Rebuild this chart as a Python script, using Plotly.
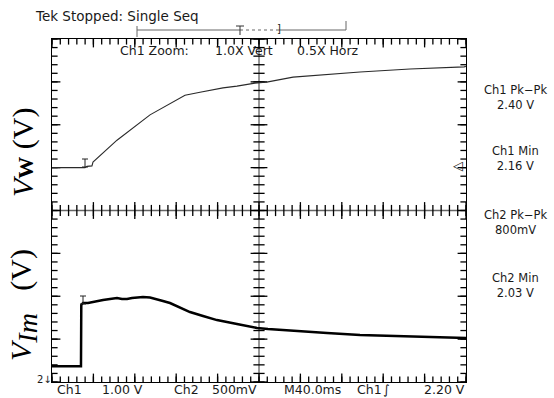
import numpy as np
import plotly.graph_objects as go

# ---------------- data (time in ms, volts) ----------------
ch1_t = [0, 31.9, 33.8, 38.6, 39.6, 62.8, 94.7, 111.1, 128.5, 143.0, 165.2, 178.7,
         196.1, 208.7, 232.9, 297.6, 345.9, 398.1, 400]
ch1_v = [2.16, 2.16, 2.19, 2.20, 2.29, 2.80, 3.39, 3.62, 3.85, 3.92, 4.02, 4.06,
         4.13, 4.16, 4.27, 4.39, 4.46, 4.51, 4.52]

ch2_t = [0, 28.0, 28.3, 30.0, 34.8, 39.6, 44.4, 49.3, 56.0, 62.8, 67.6, 72.5, 77.3,
         82.1, 87.9, 94.7, 101.4, 107.2, 114.0, 120.8, 126.6, 133.3, 145.9, 159.4,
         178.7, 198.1, 208.7, 232.9, 265.7, 297.6, 329.5, 362.3, 397.1, 400]
ch2_v = [2.03, 2.03, 2.743, 2.766, 2.766, 2.778, 2.795, 2.801, 2.813, 2.825, 2.813,
         2.813, 2.825, 2.830, 2.836, 2.830, 2.813, 2.790, 2.766, 2.731, 2.696, 2.661,
         2.614, 2.567, 2.521, 2.475, 2.463, 2.440, 2.416, 2.393, 2.381, 2.370, 2.358, 2.357]

# scope settings
time_per_div = 40.0          # M40.0ms
ch1_scale, ch1_center = 1.00, 1.16    # V/div, volts at screen centre
ch2_scale, ch2_center = 0.50, 3.845
trig_level = 2.20

meas_labels = ["Ch1 Pk\u2212Pk<br>2.40 V", "Ch1 Min<br>2.16 V",
               "Ch2 Pk\u2212Pk<br>800mV", "Ch2 Min<br>2.03 V"]
meas_y_px = [97, 158.5, 222.5, 285.5]
bottom_labels = ["Ch1", "1.00 V", "Ch2", "500mV", "M40.0ms", "Ch1", "\u222b", "2.20 V"]
bottom_x_px = [55, 100, 172, 210, 282, 355, 381, 422]

# ---------------- layout geometry ----------------
W, H = 554, 398
L, R, T, B = 52, 466, 39, 382


def px(x):
    return (x - L) / (R - L)


def py(y):
    return (B - y) / (B - T)


x_range = [0, 10 * time_per_div]
y1_range = [ch1_center - 4 * ch1_scale, ch1_center + 4 * ch1_scale]
y2_range = [ch2_center - 4 * ch2_scale, ch2_center + 4 * ch2_scale]

fig = go.Figure()

# graticule ticks (centre lines + frame edges; edge markers are half clipped)
minor_x = list(np.arange(0, x_range[1] + 0.1, time_per_div / 5))
major_x = list(np.arange(0, x_range[1] + 0.1, time_per_div))
minor_y = list(np.arange(y1_range[0], y1_range[1] + 0.01, ch1_scale / 5))
major_y = list(np.arange(y1_range[0], y1_range[1] + 0.01, ch1_scale))
rows_y = [ch1_center, y1_range[0], y1_range[1]]
cols_x = [x_range[1] / 2, x_range[0], x_range[1]]


def tick_trace(xs, ys, symbol, size):
    fig.add_trace(go.Scatter(x=xs, y=ys, mode="markers", cliponaxis=True,
                             marker=dict(symbol=symbol, size=size, color="black",
                                         line=dict(color="black", width=1.3)),
                             hoverinfo="skip", showlegend=False))


tick_trace([x for _ in rows_y for x in minor_x],
           [yv for yv in rows_y for _ in minor_x], "line-ns-open", 8)
tick_trace([x for _ in rows_y for x in major_x],
           [yv for yv in rows_y for _ in major_x], "line-ns-open", 12)
tick_trace([xv for xv in cols_x for _ in minor_y],
           [y for _ in cols_x for y in minor_y], "line-ew-open", 8)
tick_trace([xv for xv in cols_x for _ in major_y],
           [y for _ in cols_x for y in major_y], "line-ew-open", 12)

# waveforms
fig.add_trace(go.Scatter(x=ch1_t, y=ch1_v, mode="lines", yaxis="y",
                         line=dict(color="#2a2a2a", width=1.1),
                         hoverinfo="skip", showlegend=False))
fig.add_trace(go.Scatter(x=ch2_t, y=ch2_v, mode="lines", yaxis="y2",
                         line=dict(color="black", width=2.5),
                         hoverinfo="skip", showlegend=False))

# centre lines (below traces)
shapes = [
    dict(type="line", xref="paper", yref="y", x0=0, x1=1, y0=ch1_center, y1=ch1_center,
         layer="below", line=dict(color="#666", width=1.5)),
    dict(type="line", xref="x", yref="paper", x0=x_range[1] / 2, x1=x_range[1] / 2, y0=0, y1=1,
         layer="below", line=dict(color="#333", width=1)),
]

# record bar at top
gray = dict(color="#666", width=1)
shapes += [
    dict(type="line", xref="paper", yref="paper", x0=px(137), x1=px(240), y0=py(30), y1=py(30), line=gray),
    dict(type="line", xref="paper", yref="paper", x0=px(240), x1=px(279), y0=py(30), y1=py(30),
         line=dict(color="#666", width=1, dash="dot")),
    dict(type="line", xref="paper", yref="paper", x0=px(279), x1=px(346), y0=py(30), y1=py(30), line=gray),
    dict(type="line", xref="paper", yref="paper", x0=px(137), x1=px(137), y0=py(26), y1=py(37), line=gray),
    dict(type="line", xref="paper", yref="paper", x0=px(346), x1=px(346), y0=py(21), y1=py(30), line=gray),
    dict(type="line", xref="paper", yref="paper", x0=px(240), x1=px(240), y0=py(26), y1=py(35),
         line=dict(color="#333", width=1)),
    dict(type="line", xref="paper", yref="paper", x0=px(236), x1=px(244), y0=py(26), y1=py(26),
         line=dict(color="#333", width=1)),
]


def cursor_mark(xp, ytop, ybot):
    c = dict(color="#222", width=1)
    return [
        dict(type="line", xref="paper", yref="paper", x0=px(xp), x1=px(xp), y0=py(ytop), y1=py(ybot), line=c),
        dict(type="line", xref="paper", yref="paper", x0=px(xp - 3), x1=px(xp + 3), y0=py(ytop), y1=py(ytop), line=c),
        dict(type="line", xref="paper", yref="paper", x0=px(xp - 3), x1=px(xp + 3), y0=py(ybot), y1=py(ybot), line=c),
    ]


shapes += cursor_mark(85, 159, 167)
shapes += cursor_mark(83, 296, 304)

scope_font = dict(family="DejaVu Sans", size=12.5, color="#1a1a1a")
ann = []


def txt(text, x, y, xanchor="left", size=12.5, **kw):
    f = dict(scope_font)
    f["size"] = size
    ann.append(dict(text=text, x=px(x), y=py(y), xref="paper", yref="paper",
                    xanchor=xanchor, yanchor="middle", showarrow=False, font=f, **kw))


txt("Tek Stopped: Single Seq", 33, 16, size=13.5)
txt("Ch1 Zoom:", 118, 51)
txt("1.0X Vert", 213, 51)
txt("0.5X Horz", 295, 51)
txt("]", 279, 29, xanchor="center", size=10)
for lab, yy in zip(meas_labels, meas_y_px):
    txt(lab, 515, yy, xanchor="center", size=11.5)
for lab, xx in zip(bottom_labels, bottom_x_px):
    txt(lab, xx, 390)
txt("2\u2193", 35, 379, size=10)

# trigger level marker
ann.append(dict(text="\u25c1", x=x_range[1], y=trig_level, xref="x", yref="y",
                xanchor="right", yanchor="middle", showarrow=False, xshift=-1,
                font=dict(family="DejaVu Sans", size=13, color="#222")))

# axis titles
serif = dict(family="Liberation Serif", size=30, color="black")
ann.append(dict(text="<i>V</i><b><span style='font-size:22px'>W</span></b> (V)",
                x=px(23), y=py(152), xref="paper", yref="paper", textangle=-90,
                xanchor="center", yanchor="middle", showarrow=False, font=serif))
ann.append(dict(text="<i>V</i><sub><i><span style='font-size:28px'>Im</span></i></sub>   (V)",
                x=px(23), y=py(305), xref="paper", yref="paper", textangle=-90,
                xanchor="center", yanchor="middle", showarrow=False, font=serif))

axis_common = dict(showline=True, linecolor="black", linewidth=1, mirror=True,
                   ticks="", showticklabels=False, showgrid=False, zeroline=False)

fig.update_layout(
    width=W, height=H, autosize=False,
    margin=dict(l=L, r=W - R, t=T, b=H - B, pad=0),
    paper_bgcolor="white", plot_bgcolor="white",
    xaxis=dict(range=x_range, **axis_common),
    yaxis=dict(range=y1_range, **axis_common),
    yaxis2=dict(range=y2_range, overlaying="y", visible=False),
    shapes=shapes,
    annotations=ann,
)

fig.write_html("out.html")
